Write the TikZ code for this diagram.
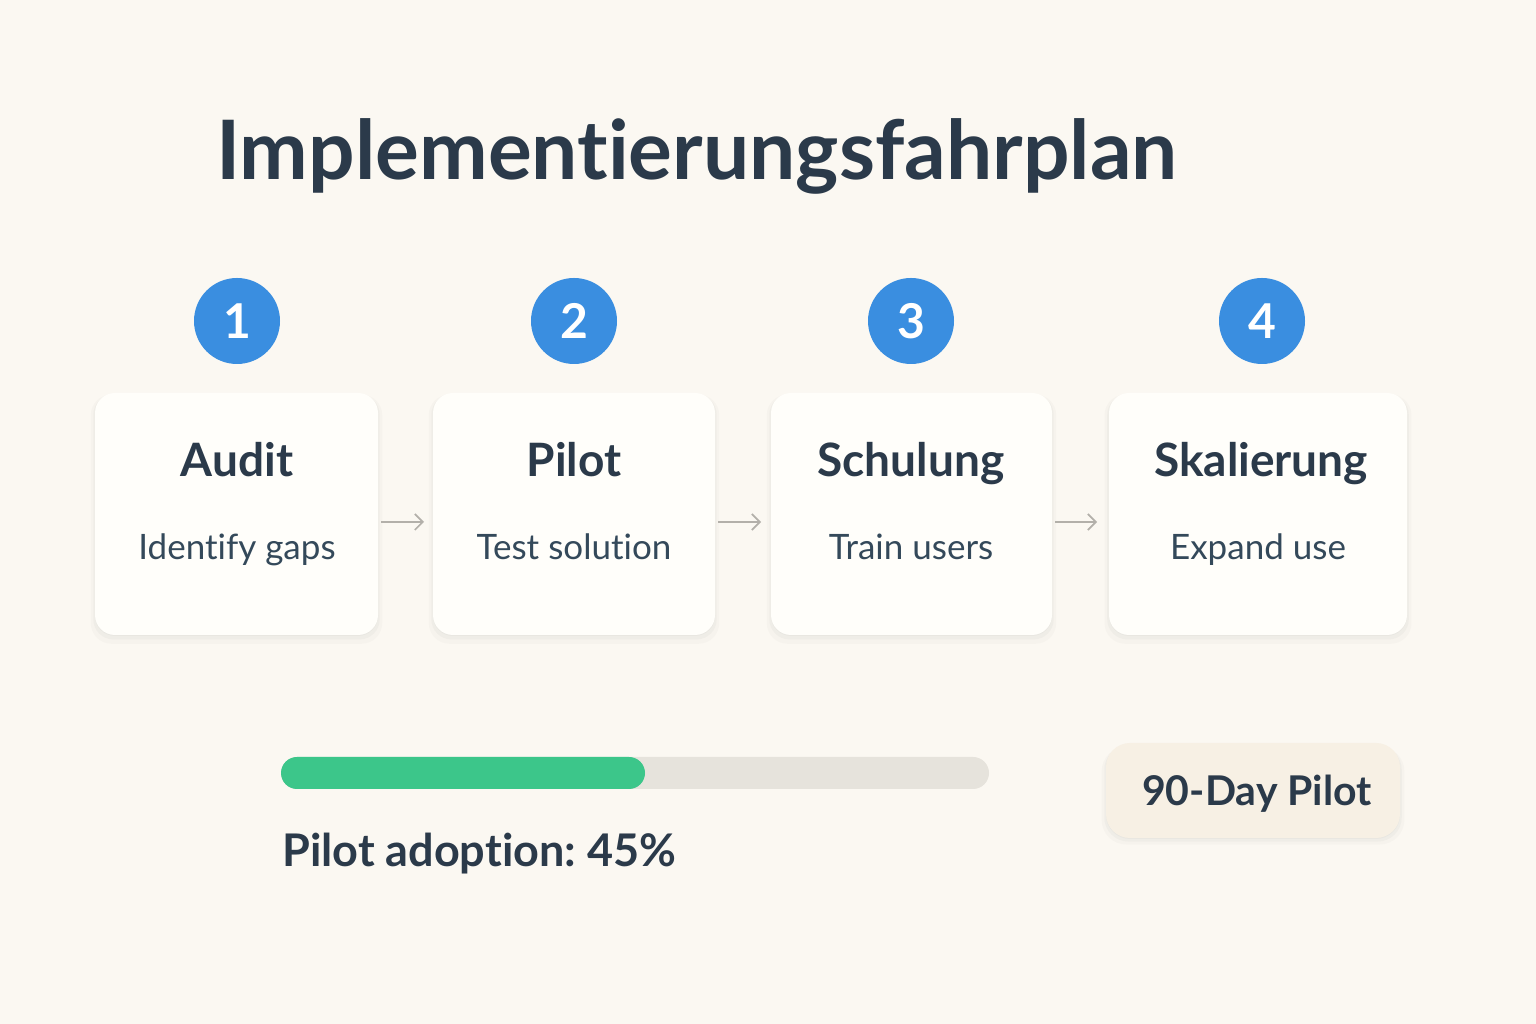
\documentclass[tikz,border=0pt]{standalone}
\usepackage{fontspec}
\setmainfont{Lato}[Ligatures={NoCommon}]
\usetikzlibrary{shadows,arrows.meta}
\definecolor{bgc}{HTML}{FBF8F2}
\definecolor{ink}{HTML}{2B3A4A}
\definecolor{subink}{HTML}{34495A}
\definecolor{blue1}{HTML}{3A8EE0}
\definecolor{cardc}{HTML}{FFFEFA}
\definecolor{arrowc}{HTML}{B3B0AA}
\definecolor{greenc}{HTML}{3CC68A}
\definecolor{trackc}{HTML}{E6E3DC}
\definecolor{badgec}{HTML}{F7F0E4}
\tikzset{
  softshadow/.style={
    drop shadow={opacity=0.035, shadow xshift=0pt, shadow yshift=-5pt, shadow scale=1.03},
    drop shadow={opacity=0.05, shadow xshift=0pt, shadow yshift=-3pt, shadow scale=1.012},
    drop shadow={opacity=0.05, shadow xshift=0pt, shadow yshift=-1pt}},
  card/.style={rectangle, rounded corners=20pt, fill=cardc, minimum height=242pt, inner sep=0pt, softshadow},
  numc/.style={circle, fill=blue1, minimum size=86pt, inner sep=0pt, text=white, font=\fontsize{48}{50}\selectfont\bfseries},
  ctitle/.style={anchor=base, inner sep=0pt, text=ink, font=\fontsize{46}{52}\selectfont\bfseries},
  csub/.style={anchor=base, inner sep=0pt, text=subink, font=\fontsize{35}{42}\selectfont},
  flow/.style={draw=arrowc, line width=1.7pt, -{Straight Barb[length=8pt,width=16pt]}},
}
\begin{document}
\frenchspacing
\begin{tikzpicture}[x=1pt,y=1pt]
\fill[bgc] (0,0) rectangle (1536,1024);
\useasboundingbox (0,0) rectangle (1536,1024);
% title
\node[anchor=base west, text=ink, font=\fontsize{82}{88}\selectfont\bfseries, inner sep=0pt] (title) at (216,844) {Implementierungsfahrplan};
% cards
\node[card, minimum width=283pt] (c1) at (236.5,510) {};
\node[card, minimum width=282pt] (c2) at (574,510) {};
\node[card, minimum width=281pt] (c3) at (911.5,510) {};
\node[card, minimum width=298pt] (c4) at (1258,510) {};
% numbers
\node[numc] (n1) at (237,703) {1};
\node[numc] (n2) at (574,703) {2};
\node[numc] (n3) at (911,703) {3};
\node[numc] (n4) at (1262,703) {4};
% titles
\node[ctitle] (t1) at (237,547) {Audit};
\node[ctitle] (t2) at (574,547) {Pilot};
\node[ctitle] (t3) at (911,547) {Schulung};
\node[ctitle] (t4) at (1261,547) {Skalierung};
% subtitles
\node[csub] (s1) at (237,464) {Identify gaps};
\node[csub] (s2) at (574,464) {Test solution};
\node[csub] (s3) at (911,464) {Train users};
\node[csub] (s4) at (1258,464) {Expand use};
% arrows
\coordinate (a1s) at (381,502); \coordinate (a1e) at (424,502);
\coordinate (a2s) at (718,502); \coordinate (a2e) at (761,502);
\coordinate (a3s) at (1055,502); \coordinate (a3e) at (1097,502);
\draw[flow] (a1s) -- (a1e);
\draw[flow] (a2s) -- (a2e);
\draw[flow] (a3s) -- (a3e);
% progress bar
\node[rectangle, rounded corners=16pt, fill=trackc, minimum width=708pt, minimum height=32pt, inner sep=0pt] (track) at (635,251) {};
\node[rectangle, rounded corners=16pt, fill=greenc, minimum width=364pt, minimum height=32pt, inner sep=0pt] (fillbar) at (463,251) {};
\node[anchor=base west, text=ink, font=\fontsize{45}{52}\selectfont\bfseries, inner sep=0pt] (plabel) at (282,157) {Pilot adoption: 45\%};
% badge
\node[rectangle, rounded corners=24pt, fill=badgec, minimum width=294pt, minimum height=95pt, inner sep=0pt, softshadow] (badge) at (1253,233.5) {};
\node[anchor=base, inner sep=0pt, text=ink, font=\fontsize{41}{48}\selectfont\bfseries] (btext) at (1257,218) {90-Day Pilot};
\end{tikzpicture}
\end{document}
